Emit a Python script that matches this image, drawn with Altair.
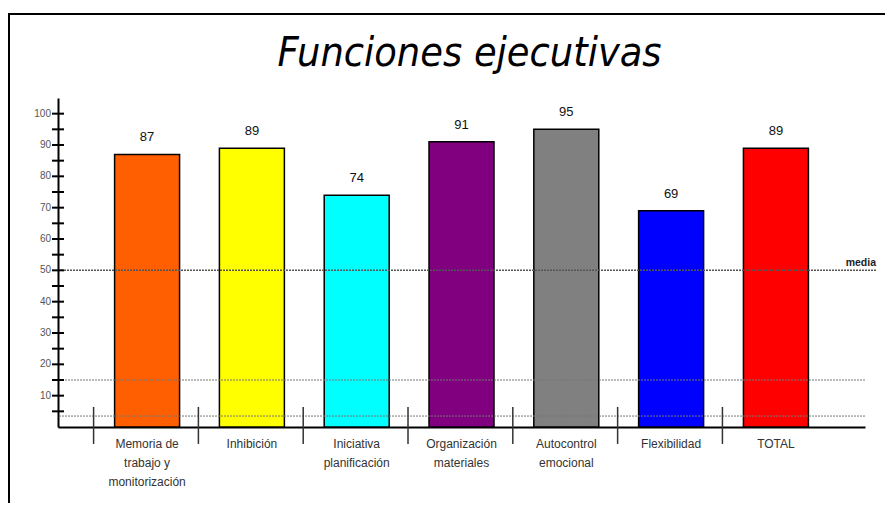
import altair as alt
import pandas as pd

categories = ["Memoria de|trabajo y|monitorización", "Inhibición", "Iniciativa|planificación",
              "Organización|materiales", "Autocontrol|emocional", "Flexibilidad", "TOTAL"]
values = [87, 89, 74, 91, 95, 69, 89]
colors = ["#FF5F00", "#FFFF00", "#00FFFF", "#800080", "#808080", "#0000FF", "#FF0000"]
y_labels = [10, 20, 30, 40, 50, 60, 70, 80, 90, 100]
y_ticks = [5, 10, 15, 20, 25, 30, 35, 40, 45, 50, 55, 60, 65, 70, 75, 80, 85, 90, 95, 100]
media_line = [50]
minor_lines = [15, 3.5]
title_text = ["Funciones ejecutivas"]

W, H = 807, 329
FONT = "Liberation Sans, Arial, sans-serif"

df = pd.DataFrame({"cat": categories, "value": values})
df_ticks = pd.DataFrame({"t": y_ticks})
df_ylab = pd.DataFrame({"t": y_labels})
df_media = pd.DataFrame({"m": media_line})
df_minor = pd.DataFrame({"m": minor_lines})
df_title = pd.DataFrame({"title": title_text})

xscale = alt.Scale(domain=categories, paddingInner=0.38, paddingOuter=0.54)
yscale = alt.Scale(domain=[0, 105], nice=False, zero=True)

x_enc = alt.X("cat:N", scale=xscale, sort=categories, title=None,
              axis=alt.Axis(labelExpr="split(datum.label, '|')", labelAngle=0,
                            labelFontSize=12, labelFont=FONT, labelColor="#333333",
                            labelLineHeight=19, labelPadding=11, ticks=False,
                            domain=True, domainColor="black", domainWidth=2,
                            grid=False, labelBaseline="top"))

base = alt.Chart(df)

bars = base.mark_bar(stroke="black", strokeWidth=1.5).encode(
    x=x_enc,
    y=alt.Y("value:Q", scale=yscale, title=None,
            axis=alt.Axis(values=y_labels, grid=False, ticks=False, domain=True,
                          domainColor="black", domainWidth=2, labels=False)),
    color=alt.Color("cat:N", scale=alt.Scale(domain=categories, range=colors), legend=None),
)

value_text = base.mark_text(dy=-17, fontSize=13, font=FONT, color="#111111").encode(
    x=alt.X("cat:N", scale=xscale, sort=categories),
    y=alt.Y("value:Q", scale=yscale),
    text=alt.Text("value:Q"),
)

separators = base.mark_rule(xOffset=-21, strokeWidth=1.5, color="#333333").encode(
    x=alt.X("cat:N", scale=xscale, sort=categories, bandPosition=0),
    y=alt.datum(6.4),
    y2=alt.datum(-5.4),
)

ticks = alt.Chart(df_ticks).mark_rule(strokeWidth=2, color="black").encode(
    y=alt.Y("t:Q", scale=yscale),
    x=alt.value(-6),
    x2=alt.value(6),
)

ylab = alt.Chart(df_ylab).mark_text(
    align="right", baseline="middle", dx=-7, fontSize=10, font=FONT, color="#555555"
).encode(
    y=alt.Y("t:Q", scale=yscale),
    x=alt.value(0),
    text=alt.Text("t:Q"),
)

media = alt.Chart(df_media).mark_rule(strokeDash=[2, 1], strokeWidth=1.5, color="#555555").encode(
    y=alt.Y("m:Q", scale=yscale),
    x=alt.value(0),
    x2=alt.value(819),
)

media_text = alt.Chart(df_media).mark_text(
    text="media", align="right", baseline="bottom", dy=-2, fontSize=10.5,
    fontWeight="bold", font=FONT, color="#222222"
).encode(
    y=alt.Y("m:Q", scale=yscale),
    x=alt.value(818),
)

minor = alt.Chart(df_minor).mark_rule(strokeDash=[2, 1], strokeWidth=1, color="#777777").encode(
    y=alt.Y("m:Q", scale=yscale),
)

title = alt.Chart(df_title).mark_text(
    font="Liberation Sans Narrow, Arial Narrow, DejaVu Sans Condensed, sans-serif",
    fontSize=41, fontStyle="italic", color="black", align="center", baseline="alphabetic"
).encode(
    text="title:N",
    x=alt.value(W / 2 + 8),
    y=alt.value(-32),
)

frame_left = alt.Chart(df_media).mark_rule(strokeWidth=2, color="black").encode(
    x=alt.value(-49), y=alt.value(-84), y2=alt.value(410))
frame_top = alt.Chart(df_media).mark_rule(strokeWidth=2, color="black").encode(
    x=alt.value(-50), x2=alt.value(830), y=alt.value(-84))

chart = alt.layer(
    bars, media, minor, separators, ticks, ylab, value_text, media_text, title, frame_left, frame_top
).properties(
    width=W, height=H,
    background="white",
    autosize=alt.AutoSizeParams(type="none"),
    padding={"left": 50, "top": 90, "right": 20, "bottom": 76},
).configure_view(stroke=None)

chart.save("out.html", embed_options={"renderer": "svg", "actions": False})
